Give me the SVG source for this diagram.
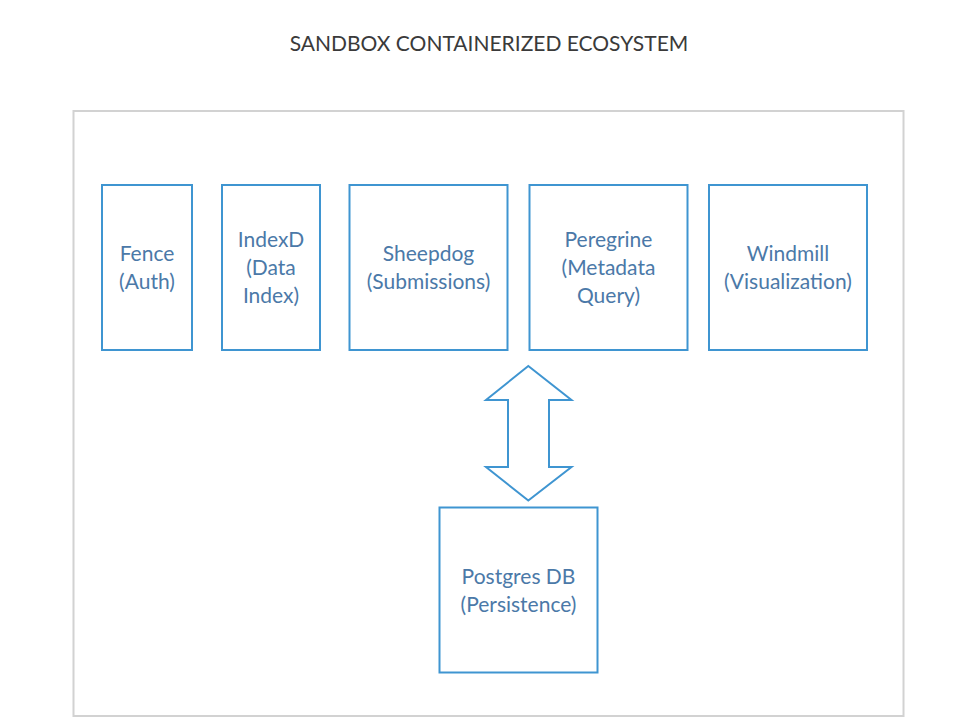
<svg xmlns="http://www.w3.org/2000/svg" width="971" height="726" viewBox="0 0 971 726">
<style>
.node{fill:#fff;stroke:#3f95d1;stroke-width:2}
.lbl{font-family:Lato,"Open Sans","Liberation Sans",sans-serif;font-size:21px;fill:#4b79a8;text-anchor:middle}
.title{font-family:Lato,"Open Sans","Liberation Sans",sans-serif;font-size:21px;fill:#3a3a3a;text-anchor:middle}
</style>
<rect width="971" height="726" fill="#fff"/>
<text class="title" x="489" y="50.5">SANDBOX CONTAINERIZED ECOSYSTEM</text>
<g id="ecosystem">
<rect x="73.5" y="111" width="830" height="605" fill="#fff" stroke="#d2d2d2" stroke-width="2"/>
</g>
<g id="fence">
<rect class="node" x="102" y="185" width="90" height="165"/>
<text class="lbl" x="147" y="260.5">Fence</text>
<text class="lbl" x="147" y="289">(Auth)</text>
</g>
<g id="indexd">
<rect class="node" x="222" y="185" width="98" height="165"/>
<text class="lbl" x="271" y="247">IndexD</text>
<text class="lbl" x="271" y="275">(Data</text>
<text class="lbl" x="271" y="303">Index)</text>
</g>
<g id="sheepdog">
<rect class="node" x="349.5" y="185" width="158" height="165"/>
<text class="lbl" x="428.5" y="260.5">Sheepdog</text>
<text class="lbl" x="428.5" y="289">(Submissions)</text>
</g>
<g id="peregrine">
<rect class="node" x="529.5" y="185" width="158" height="165"/>
<text class="lbl" x="608.5" y="247">Peregrine</text>
<text class="lbl" x="608.5" y="275">(Metadata</text>
<text class="lbl" x="608.5" y="303">Query)</text>
</g>
<g id="windmill">
<rect class="node" x="709" y="185" width="158" height="165"/>
<text class="lbl" x="788" y="260.5">Windmill</text>
<text class="lbl" x="788" y="289">(Visualization)</text>
</g>
<g id="postgres">
<rect class="node" x="439.5" y="507.5" width="158" height="165"/>
<text class="lbl" x="518.5" y="583.5">Postgres DB</text>
<text class="lbl" x="518.5" y="611.5">(Persistence)</text>
</g>
<g id="connectors">
<path d="M528.3 366 L571.5 400 L549 400 L549 467 L571.5 467 L528.3 500.5 L486 467 L508 467 L508 400 L486 400 Z" fill="#fff" stroke="#3f95d1" stroke-width="2" stroke-linejoin="miter"/>
</g>
</svg>
